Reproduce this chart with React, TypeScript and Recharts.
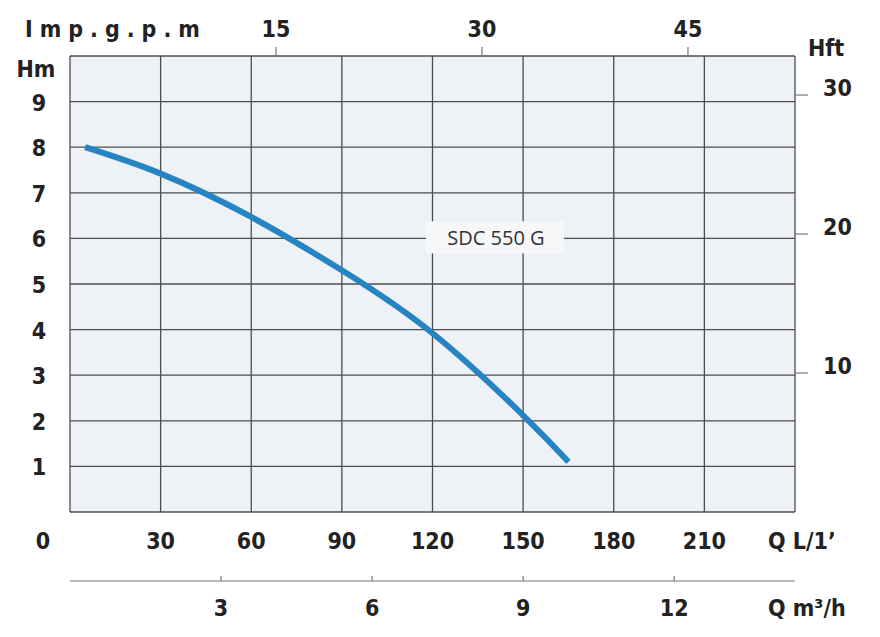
import { ComposedChart, Line, XAxis, YAxis, CartesianGrid, ReferenceDot } from "recharts";

// pump curve SDC 550 G, Q in L/min, H in m
const flowLpm = [5, 30, 60, 90, 120, 150, 165];
const headM = [8.0, 7.42, 6.47, 5.3, 3.92, 2.12, 1.1];

const lpmTicks = [0, 30, 60, 90, 120, 150, 180, 210, 240];
const hmTicks = [0, 1, 2, 3, 4, 5, 6, 7, 8, 9, 10];
const impTicks = [15, 30, 45];
const m3hTicks = [3, 6, 9, 12];
const hftTicks = [10, 20, 30];

const modelName = "SDC 550 G";
const modelAt = { q: 141, h: 6 };

const LPM_MAX = 240;
const HM_MAX = 10;
const LPM_PER_IMPGAL = 4.54609;
const M_PER_FT = 0.3048;
const HFT_MAX = HM_MAX / M_PER_FT;

const data = flowLpm.map((q, i) => ({
  q,
  imp: q / LPM_PER_IMPGAL,
  m3h: (q * 60) / 1000,
  h: headM[i],
  hft: headM[i] / M_PER_FT,
}));

const FONT = "'DejaVu Sans Condensed', 'DejaVu Sans', sans-serif";
const INK = "#222";
const AXIS_GREY = "#777";
const TXT = { fontFamily: FONT, fontWeight: 700, fontSize: 23, fill: INK };

function LpmTick({ x, y, payload }: any) {
  const v = payload.value;
  if (v === LPM_MAX) return null;
  return (
    <text x={v === 0 ? x - 27 : x} y={y + 37} textAnchor="middle" style={TXT}>
      {v}
    </text>
  );
}

function M3hTick({ x, y, payload }: any) {
  return (
    <g>
      <line x1={x} y1={y} x2={x} y2={y - 5} stroke={AXIS_GREY} strokeWidth={1.2} />
      <text x={x} y={y + 35} textAnchor="middle" style={TXT}>
        {payload.value}
      </text>
    </g>
  );
}

function ImpTick({ x, y, payload }: any) {
  return (
    <g>
      <line x1={x} y1={y} x2={x} y2={y - 9} stroke={AXIS_GREY} strokeWidth={1.2} />
      <text x={x} y={y - 19} textAnchor="middle" style={TXT}>
        {payload.value}
      </text>
    </g>
  );
}

function HmTick({ x, y, payload }: any) {
  const v = payload.value;
  if (v === 0) return null;
  if (v === HM_MAX)
    return (
      <text x={x - 34} y={y + 21} textAnchor="middle" style={TXT}>
        Hm
      </text>
    );
  return (
    <text x={x - 31} y={y + 9} textAnchor="middle" style={TXT}>
      {v}
    </text>
  );
}

function HftTick({ x, y, payload }: any) {
  if (payload.value === HFT_MAX)
    return (
      <text x={x + 13} y={y} textAnchor="start" style={TXT}>
        Hft
      </text>
    );
  return (
    <g>
      <line x1={x} y1={y} x2={x + 13} y2={y} stroke={AXIS_GREY} strokeWidth={1.2} />
      <text x={x + 28} y={y + 1} textAnchor="start" style={TXT}>
        {payload.value}
      </text>
    </g>
  );
}

function ModelLabel({ viewBox }: any) {
  const cx = viewBox.x;
  const cy = viewBox.y;
  return (
    <g>
      <rect x={cx - 70} y={cy - 17} width={138} height={32} fill="#f6f7f9" />
      <text
        x={cx}
        y={cy + 7}
        textAnchor="middle"
        style={{ fontFamily: "'Open Sans', sans-serif", fontSize: 20, fill: "#333" }}
      >
        {modelName}
      </text>
    </g>
  );
}

export default function App() {
  return (
    <div style={{ position: "absolute", left: 0, top: 0, background: "#fff" }}>
      <ComposedChart width={880} height={637} data={data} margin={{ top: 0, right: 0, bottom: 0, left: 0 }}>
        <CartesianGrid
          xAxisId="lpm"
          yAxisId="hm"
          fill="#eef1f5"
          fillOpacity={1}
          stroke="#4d4d4d"
          strokeWidth={1.3}
        />
        <XAxis
          xAxisId="lpm"
          dataKey="q"
          type="number"
          domain={[0, LPM_MAX]}
          ticks={lpmTicks}
          allowDataOverflow
          height={69}
          tickSize={0}
          tickMargin={0}
          axisLine={false}
          tickLine={false}
          tick={<LpmTick />}
          label={{
            content: ({ viewBox }: any) => (
              <text x={viewBox.x + viewBox.width - 27} y={viewBox.y + 37} style={TXT}>
                Q L/1’
              </text>
            ),
          }}
        />
        <XAxis
          xAxisId="m3h"
          dataKey="m3h"
          type="number"
          domain={[0, (LPM_MAX * 60) / 1000]}
          ticks={m3hTicks}
          allowDataOverflow
          height={56}
          tickSize={0}
          tickMargin={0}
          axisLine={{ stroke: AXIS_GREY, strokeWidth: 1.2 }}
          tickLine={false}
          tick={<M3hTick />}
          label={{
            content: ({ viewBox }: any) => (
              <text x={viewBox.x + viewBox.width - 27} y={viewBox.y + 35} style={TXT}>
                Q m³/h
              </text>
            ),
          }}
        />
        <XAxis
          xAxisId="imp"
          dataKey="imp"
          orientation="top"
          type="number"
          domain={[0, LPM_MAX / LPM_PER_IMPGAL]}
          ticks={impTicks}
          allowDataOverflow
          height={56}
          tickSize={0}
          tickMargin={0}
          axisLine={false}
          tickLine={false}
          tick={<ImpTick />}
          label={{
            content: ({ viewBox }: any) => (
              <text x={viewBox.x - 45} y={viewBox.y + 37} style={{ ...TXT, letterSpacing: 7 }}>
                Imp.g.p.m
              </text>
            ),
          }}
        />
        <YAxis
          yAxisId="hm"
          dataKey="h"
          type="number"
          domain={[0, HM_MAX]}
          ticks={hmTicks}
          allowDataOverflow
          width={70}
          tickSize={0}
          tickMargin={0}
          axisLine={false}
          tickLine={false}
          tick={<HmTick />}
        />
        <YAxis
          yAxisId="hft"
          dataKey="hft"
          orientation="right"
          type="number"
          domain={[0, HFT_MAX]}
          ticks={[...hftTicks, HFT_MAX]}
          allowDataOverflow
          width={85}
          tickSize={0}
          tickMargin={0}
          axisLine={false}
          tickLine={false}
          tick={<HftTick />}
        />
        <Line
          xAxisId="lpm"
          yAxisId="hm"
          dataKey="h"
          type="natural"
          stroke="#2784c3"
          strokeWidth={6}
          dot={false}
          isAnimationActive={false}
        />
        <ReferenceDot
          xAxisId="lpm"
          yAxisId="hm"
          x={modelAt.q}
          y={modelAt.h}
          r={0}
          fill="none"
          stroke="none"
          label={<ModelLabel />}
        />
      </ComposedChart>
    </div>
  );
}
